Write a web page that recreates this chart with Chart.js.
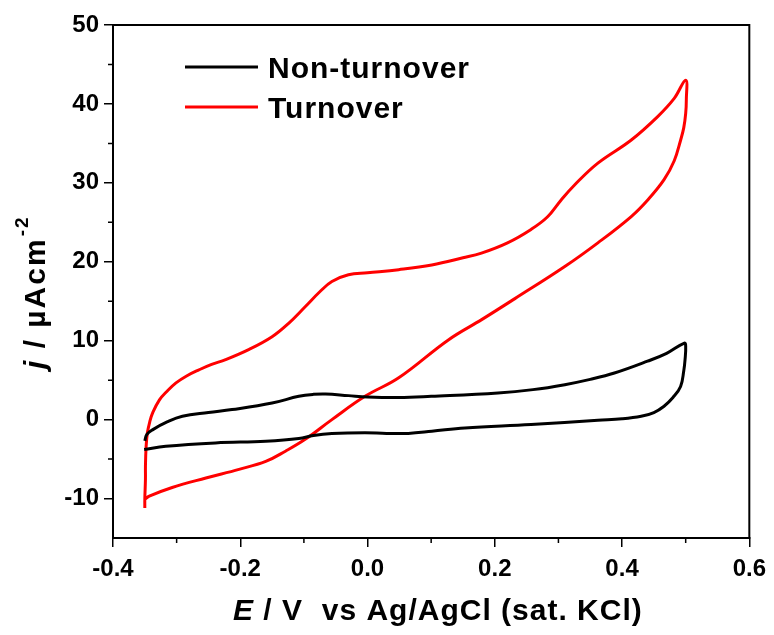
<!DOCTYPE html>
<html>
<head>
<meta charset="utf-8">
<script src="https://cdn.jsdelivr.net/npm/chart.js@4"></script>
<style>
  html, body { margin: 0; padding: 0; background: #fff; }
  #wrap { width: 774px; height: 635px; }
</style>
</head>
<body>
<div id="wrap"><canvas id="cv"></canvas></div>
<script>
// potential (V) and current density (uA/cm2)
const nonTurnoverE = [-0.350, -0.347, -0.338, -0.315, -0.291, -0.250, -0.213, -0.150, -0.108, -0.085, -0.066, -0.030, 0.000, 0.049, 0.100, 0.205, 0.260, 0.310, 0.350, 0.388, 0.440, 0.470, 0.498,
  0.500, 0.499, 0.497, 0.492, 0.480, 0.466, 0.450, 0.430, 0.400, 0.362, 0.257, 0.153, 0.101, 0.064, 0.030, -0.004, -0.056, -0.085, -0.108, -0.160, -0.239, -0.317, -0.351];
const nonTurnoverJ = [-2.7, -1.9, -1.3, -0.3, 0.42, 0.9, 1.27, 2.1, 2.95, 3.2, 3.25, 3.04, 2.87, 2.8, 2.95, 3.37, 3.8, 4.43, 5.1, 5.9, 7.4, 8.4, 9.7,
  9.3, 7.6, 6.2, 4.2, 2.8, 1.7, 0.9, 0.42, 0.1, -0.08, -0.63, -1.05, -1.48, -1.75, -1.75, -1.65, -1.75, -2.0, -2.4, -2.74, -2.95, -3.38, -3.8];

const turnoverE = [-0.350, -0.350, -0.349, -0.349, -0.348, -0.346, -0.342, -0.338, -0.327, -0.315, -0.301, -0.285, -0.265, -0.245, -0.223, -0.186, -0.150, -0.124, -0.098, -0.075, -0.056, -0.030, 0.000, 0.049, 0.101, 0.150, 0.179, 0.220, 0.257, 0.283, 0.304, 0.325, 0.362, 0.414, 0.456, 0.482, 0.500,
  0.501, 0.500, 0.497, 0.492, 0.482, 0.466, 0.440, 0.414, 0.362, 0.310, 0.231, 0.180, 0.127, 0.049, -0.004, -0.056, -0.098, -0.129, -0.160, -0.202, -0.254, -0.307, -0.343, -0.350];
const turnoverJ = [-11.2, -10.1, -7.5, -5.9, -3.5, -1.7, -0.2, 0.8, 2.5, 3.6, 4.65, 5.5, 6.3, 7.0, 7.6, 8.9, 10.5, 12.2, 14.3, 16.2, 17.5, 18.35, 18.6, 19.0, 19.6, 20.5, 21.1, 22.4, 24.1, 25.7, 27.8, 29.7, 32.5, 35.4, 38.4, 40.7, 43.0,
  40.5, 38.8, 37.0, 35.4, 32.8, 30.4, 27.8, 25.7, 22.4, 19.4, 15.3, 12.7, 10.1, 5.3, 2.95, 0.0, -2.5, -4.0, -5.3, -6.3, -7.4, -8.6, -9.7, -10.1];

const seriesNames = ['Non-turnover', 'Turnover'];
const xTicks = [-0.4, -0.2, 0.0, 0.2, 0.4, 0.6];
const xTickLabels = ['-0.4', '-0.2', '0.0', '0.2', '0.4', '0.6'];
const xMinor = [-0.3, -0.1, 0.1, 0.3, 0.5];
const yTicks = [-10, 0, 10, 20, 30, 40, 50];
const yTickLabels = ['-10', '0', '10', '20', '30', '40', '50'];
const yMinor = [-5, 5, 15, 25, 35, 45];

const FONT = '"Liberation Sans", Arial, sans-serif';

function toPoints(xs, ys) {
  return xs.map((x, i) => ({ x: x, y: ys[i] }));
}

// frame, minor ticks, legend and the two axis titles
const decorations = {
  id: 'decorations',
  afterDraw(chart) {
    const ctx = chart.ctx;
    const a = chart.chartArea;
    const xs = chart.scales.x, ys = chart.scales.y;
    ctx.save();
    ctx.strokeStyle = '#000';
    ctx.lineWidth = 2;
    ctx.strokeRect(a.left, a.top, a.right - a.left, a.bottom - a.top);

    ctx.lineWidth = 1.5;
    ctx.beginPath();
    xMinor.forEach(v => {
      const px = xs.getPixelForValue(v);
      ctx.moveTo(px, a.bottom);
      ctx.lineTo(px, a.bottom + 5);
    });
    yMinor.forEach(v => {
      const py = ys.getPixelForValue(v);
      ctx.moveTo(a.left, py);
      ctx.lineTo(a.left - 5, py);
    });
    ctx.stroke();

    // legend
    ctx.letterSpacing = '1px';
    chart.data.datasets.forEach((ds, i) => {
      const y = 67 + i * 40;
      ctx.strokeStyle = ds.borderColor;
      ctx.lineWidth = 3;
      ctx.beginPath();
      ctx.moveTo(185, y);
      ctx.lineTo(258, y);
      ctx.stroke();
      ctx.fillStyle = '#000';
      ctx.font = 'bold 30px ' + FONT;
      ctx.textBaseline = 'alphabetic';
      ctx.fillText(ds.label, 268, y + 11);
    });

    // x title
    ctx.fillStyle = '#000';
    let x = 233;
    ctx.font = 'italic bold 30px ' + FONT;
    ctx.fillText('E', x, 620);
    x += ctx.measureText('E').width;
    ctx.font = 'bold 30px ' + FONT;
    ctx.fillText(' / V  vs Ag/AgCl (sat. KCl)', x, 620);

    // y title
    ctx.translate(45, 369);
    ctx.rotate(-Math.PI / 2);
    ctx.letterSpacing = '2px';
    let t = 0;
    ctx.font = 'italic bold 30px ' + FONT;
    ctx.fillText('j', t, 0);
    t += ctx.measureText('j').width;
    ctx.font = 'bold 30px ' + FONT;
    ctx.fillText(' / \u00b5Acm', t, 0);
    t += ctx.measureText(' / \u00b5Acm').width;
    ctx.font = 'bold 19px ' + FONT;
    ctx.fillText('-2', t + 1, -17);
    ctx.restore();
  }
};

const ctx = document.getElementById('cv').getContext('2d');
const chart = new Chart(ctx, {
  type: 'scatter',
  data: {
    datasets: [{
      label: seriesNames[0],
      data: toPoints(nonTurnoverE, nonTurnoverJ),
      borderColor: '#000000',
      borderWidth: 3,
      showLine: true,
      pointRadius: 0,
      tension: 0.4
    }, {
      label: seriesNames[1],
      data: toPoints(turnoverE, turnoverJ),
      borderColor: '#ff0000',
      borderWidth: 3,
      showLine: true,
      pointRadius: 0,
      tension: 0.4
    }]
  },
  options: {
    responsive: true,
    maintainAspectRatio: false,
    animation: false,
    layout: { padding: { left: 0, right: 22, top: 25, bottom: 0 } },
    scales: {
      x: {
        type: 'linear',
        min: -0.4,
        max: 0.6,
        afterBuildTicks: s => { s.ticks = xTicks.map(v => ({ value: v })); },
        afterFit: s => { s.height = 97; },
        ticks: {
          callback: (v, i) => xTickLabels[i],
          font: { family: FONT, size: 24, weight: 'bold' },
          color: '#000',
          padding: 8,
          maxRotation: 0
        },
        grid: { drawOnChartArea: false, tickLength: 9, color: '#000', lineWidth: 1.5 },
        border: { display: true, color: '#000', width: 2 }
      },
      y: {
        min: -15,
        max: 50,
        afterBuildTicks: s => { s.ticks = yTicks.map(v => ({ value: v })); },
        afterFit: s => { s.width = 113; },
        ticks: {
          callback: (v, i) => yTickLabels[i],
          font: { family: FONT, size: 24, weight: 'bold' },
          color: '#000',
          padding: 5
        },
        grid: { drawOnChartArea: false, tickLength: 9, color: '#000', lineWidth: 1.5 },
        border: { display: true, color: '#000', width: 2 }
      }
    },
    plugins: {
      legend: { display: false },
      tooltip: { enabled: false }
    }
  },
  plugins: [decorations]
});
</script>
</body>
</html>
